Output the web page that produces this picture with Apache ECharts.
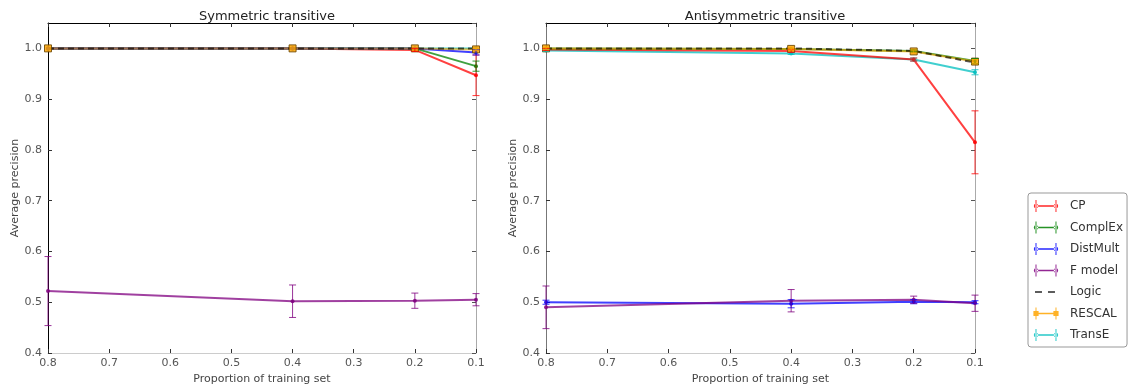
<!DOCTYPE html>
<html>
<head>
<meta charset="utf-8">
<script src="https://cdn.jsdelivr.net/npm/echarts@6/dist/echarts.min.js"></script>
<style>
html,body{margin:0;padding:0;background:#fff;}
#chart{width:1135px;height:390px;}
</style>
</head>
<body>
<div id="chart"></div>
<script>
// ---- data ----
const proportions = [0.8, 0.4, 0.2, 0.1];
const models = ['CP', 'ComplEx', 'DistMult', 'F model', 'Logic', 'RESCAL', 'TransE'];
const panelTitles = ['Symmetric transitive', 'Antisymmetric transitive'];
const xTickValues = [0.8, 0.7, 0.6, 0.5, 0.4, 0.3, 0.2, 0.1];
const yTickValues = [0.4, 0.5, 0.6, 0.7, 0.8, 0.9, 1.0];

// Symmetric transitive
const symCP = [1.0, 1.0, 0.997, 0.947];
const symCPErr = [0, 0, 0.003, 0.04];
const symComplEx = [1.0, 1.0, 1.0, 0.965];
const symComplExErr = [0, 0, 0, 0.01];
const symDistMult = [1.0, 1.0, 1.0, 0.992];
const symDistMultErr = [0, 0, 0, 0.005];
const symFmodel = [0.522, 0.502, 0.503, 0.505];
const symFmodelErr = [0.068, 0.032, 0.015, 0.012];
const symLogic = [1.0, 1.0, 1.0, 1.0];
const symRESCAL = [1.0, 1.0, 1.0, 0.998];
const symRESCALErr = [0, 0, 0, 0.002];
const symTransE = [1.0, 1.0, 1.0, 1.0];
const symTransEErr = [0, 0, 0, 0];

// Antisymmetric transitive
const antiCP = [0.998, 0.995, 0.978, 0.815];
const antiCPErr = [0.002, 0.003, 0.003, 0.062];
const antiComplEx = [1.0, 0.999, 0.995, 0.975];
const antiComplExErr = [0, 0, 0.002, 0.005];
const antiDistMult = [0.5, 0.497, 0.501, 0.5];
const antiDistMultErr = [0.004, 0.008, 0.004, 0.003];
const antiFmodel = [0.49, 0.503, 0.505, 0.498];
const antiFmodelErr = [0.042, 0.022, 0.007, 0.016];
const antiLogic = [1.0, 1.0, 0.995, 0.972];
const antiRESCAL = [1.0, 0.999, 0.994, 0.974];
const antiRESCALErr = [0.002, 0.002, 0.003, 0.004];
const antiTransE = [0.996, 0.99, 0.978, 0.953];
const antiTransEErr = [0.002, 0.002, 0.003, 0.005];

// ---- styles ----
const colorMap = {
  'CP': '#ff0000', 'ComplEx': '#008000', 'DistMult': '#0000ff', 'F model': '#800080',
  'Logic': '#000000', 'RESCAL': '#ffa500', 'TransE': '#00bfbf'
};

const panels = [
  { vals: {'CP': symCP, 'ComplEx': symComplEx, 'DistMult': symDistMult, 'F model': symFmodel, 'Logic': symLogic, 'RESCAL': symRESCAL, 'TransE': symTransE},
    errs: {'CP': symCPErr, 'ComplEx': symComplExErr, 'DistMult': symDistMultErr, 'F model': symFmodelErr, 'RESCAL': symRESCALErr, 'TransE': symTransEErr} },
  { vals: {'CP': antiCP, 'ComplEx': antiComplEx, 'DistMult': antiDistMult, 'F model': antiFmodel, 'Logic': antiLogic, 'RESCAL': antiRESCAL, 'TransE': antiTransE},
    errs: {'CP': antiCPErr, 'ComplEx': antiComplExErr, 'DistMult': antiDistMultErr, 'F model': antiFmodelErr, 'RESCAL': antiRESCALErr, 'TransE': antiTransEErr} }
];

const drawOrder = ['TransE', 'CP', 'ComplEx', 'DistMult', 'F model', 'RESCAL', 'Logic'];

const grids = [
  { left: 48, right: 659, top: 23, bottom: 37 },
  { left: 546, right: 160, top: 23, bottom: 37 }
];

const fmt = v => (Math.round(v * 10) / 10).toFixed(1);

const xAxes = [], yAxes = [];
[0, 1].forEach(g => {
  const leftColor = g === 0 ? '#000' : '#777';
  xAxes.push({
    type: 'value', gridIndex: g, min: 0.1, max: 0.8, interval: 0.1, inverse: true,
    position: 'bottom',
    name: 'Proportion of training set', nameLocation: 'middle', nameGap: 21,
    nameTextStyle: { fontFamily: 'DejaVu Sans', fontSize: 11, color: '#444' },
    axisLine: { show: true, onZero: false, lineStyle: { color: '#ccc', width: 1 } },
    axisTick: { show: true, inside: true, length: 4, lineStyle: { color: '#333' } },
    axisLabel: { fontFamily: 'DejaVu Sans', fontSize: 11, color: '#555', margin: 5, formatter: fmt },
    splitLine: { show: false }
  });
  xAxes.push({
    type: 'value', gridIndex: g, min: 0.1, max: 0.8, interval: 0.1, inverse: true,
    position: 'top',
    axisLine: { show: true, onZero: false, lineStyle: { color: '#000', width: 1 } },
    axisTick: { show: true, inside: true, length: 4, lineStyle: { color: '#333' } },
    axisLabel: { show: false }, splitLine: { show: false }
  });
  yAxes.push({
    type: 'value', gridIndex: g, min: 0.4, max: 1.05, interval: 0.1, position: 'left',
    name: 'Average precision', nameLocation: 'middle', nameGap: 27, nameRotate: 90,
    nameTextStyle: { fontFamily: 'DejaVu Sans', fontSize: 11, color: '#444' },
    axisLine: { show: true, onZero: false, lineStyle: { color: leftColor, width: 1 } },
    axisTick: { show: true, inside: true, length: 4, lineStyle: { color: '#333' } },
    axisLabel: { fontFamily: 'DejaVu Sans', fontSize: 11, color: '#555', margin: 6, formatter: fmt, showMaxLabel: false },
    splitLine: { show: false }
  });
  yAxes.push({
    type: 'value', gridIndex: g, min: 0.4, max: 1.05, interval: 0.1, position: 'right',
    axisLine: { show: true, onZero: false, lineStyle: { color: '#aaa', width: 1 } },
    axisTick: { show: true, inside: true, length: 4, lineStyle: { color: '#555' } },
    axisLabel: { show: false }, splitLine: { show: false }
  });
});

function errorRender(color) {
  return function (params, api) {
    const x = api.value(0), y = api.value(1), e = api.value(2);
    if (!(e > 0)) return;
    const lo = api.coord([x, y - e]);
    const hi = api.coord([x, y + e]);
    const c = 3.5;
    const st = { stroke: color, lineWidth: 1, opacity: 0.8 };
    return {
      type: 'group', children: [
        { type: 'line', shape: { x1: lo[0], y1: lo[1], x2: hi[0], y2: hi[1] }, style: st },
        { type: 'line', shape: { x1: lo[0] - c, y1: lo[1], x2: lo[0] + c, y2: lo[1] }, style: st },
        { type: 'line', shape: { x1: hi[0] - c, y1: hi[1], x2: hi[0] + c, y2: hi[1] }, style: st }
      ]
    };
  };
}

const series = [];
panels.forEach((p, g) => {
  drawOrder.forEach(name => {
    const vals = p.vals[name];
    const color = colorMap[name];
    const data = proportions.map((x, i) => [x, vals[i]]);
    const isLogic = name === 'Logic';
    const isRescal = name === 'RESCAL';
    series.push({
      type: 'line', name: name, xAxisIndex: g * 2, yAxisIndex: g * 2,
      data: data, animation: false,
      symbol: isLogic ? 'none' : (isRescal ? 'rect' : 'circle'),
      symbolSize: isRescal ? 7 : 4,
      showSymbol: !isLogic,
      itemStyle: { color: color, opacity: 0.85, borderColor: isRescal ? '#6a4500' : color, borderWidth: isRescal ? 1 : 0 },
      lineStyle: { color: color, width: 2, type: isLogic ? [6, 4] : 'solid', opacity: isLogic ? 0.65 : (isRescal ? 0.6 : 0.75) },
      emphasis: { disabled: true }, z: 2
    });
    const errs = p.errs[name];
    if (errs) {
      series.push({
        type: 'custom', name: name, xAxisIndex: g * 2, yAxisIndex: g * 2,
        data: proportions.map((x, i) => [x, vals[i], errs[i]]),
        renderItem: errorRender(color), animation: false, z: 3,
        itemStyle: { color: color }
      });
    }
  });
});

// legend icons
const corner = 'M0 0h0.01v0.01h-0.01z M26 12h0.01v0.01h-0.01z ';
const dot = cx => `M${cx - 2.2} 6a2.2 2.2 0 1 0 4.4 0a2.2 2.2 0 1 0 -4.4 0z `;
const sq = cx => `M${cx - 2.6} 3.4h5.2v5.2h-5.2z `;
const errIcon = 'path://' + corner + 'M2.5 0h1v12h-1z M22.5 0h1v12h-1z M3 5.2h20v1.6h-20z ' + dot(3) + dot(23);
const rescalIcon = 'path://' + corner + 'M2.5 0h1v12h-1z M22.5 0h1v12h-1z M3 5.2h20v1.6h-20z ' + sq(3) + sq(23);
const logicIcon = 'path://' + corner + 'M2 5.3h7v1.4h-7z M15 5.3h7v1.4h-7z';

const option = {
  backgroundColor: '#ffffff',
  animation: false,
  title: panelTitles.map((t, i) => ({
    text: t, left: i === 0 ? 262 : 760, top: 5, textAlign: 'center',
    textStyle: { fontFamily: 'DejaVu Sans', fontSize: 13, fontWeight: 'normal', color: '#222' }
  })),
  grid: grids,
  xAxis: xAxes,
  yAxis: yAxes,
  legend: {
    orient: 'vertical', left: 1028, top: 193,
    padding: [7, 4, 6, 5],
    itemWidth: 26, itemHeight: 12, itemGap: 9.5,
    borderColor: '#999', borderWidth: 1, borderRadius: 3,
    textStyle: { fontFamily: 'DejaVu Sans', fontSize: 12, color: '#333', padding: [0, 0, 0, 6] },
    selectedMode: false,
    data: models.map(m => ({
      name: m,
      icon: m === 'Logic' ? logicIcon : (m === 'RESCAL' ? rescalIcon : errIcon),
      itemStyle: { color: colorMap[m], opacity: 0.85, borderColor: colorMap[m], borderWidth: 0 }
    }))
  },
  series: series
};

const chart = echarts.init(document.getElementById('chart'), null, { renderer: 'canvas' });
chart.setOption(option);
</script>
</body>
</html>
